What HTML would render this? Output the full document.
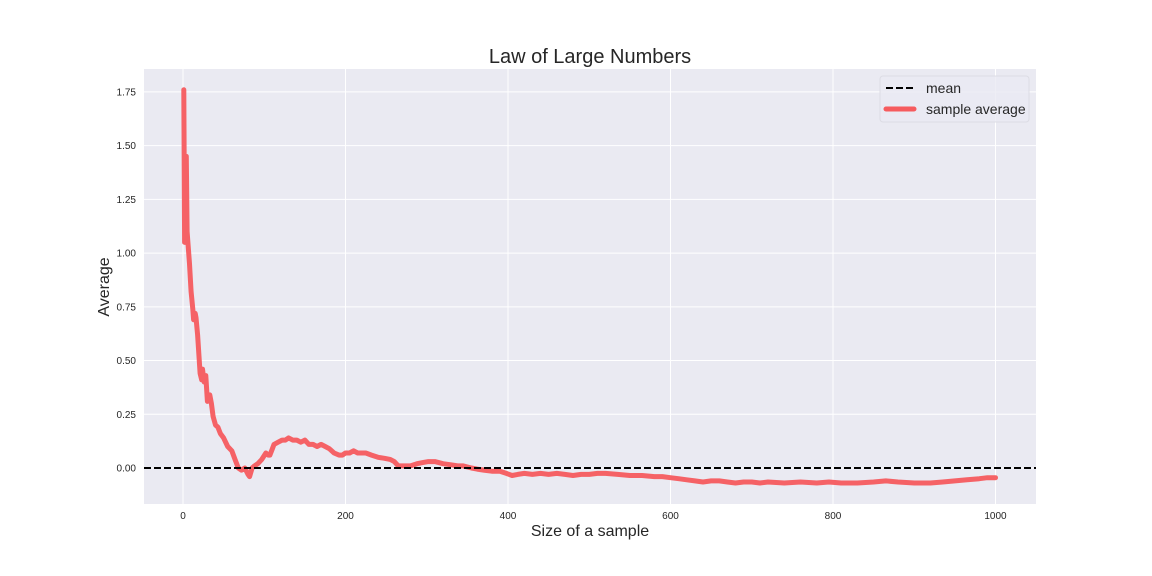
<!DOCTYPE html>
<html><head><meta charset="utf-8"><style>
body{margin:0;background:#fff;}
svg{display:block;font-family:"Liberation Sans",sans-serif;}
</style></head><body>
<svg id="chart" width="1152" height="576">
<rect x="144" y="69" width="892" height="435" fill="#EAEAF2"/>
<g id="grid"></g>
<g id="ticks"></g>
<text x="590" y="63" font-size="20" text-anchor="middle" fill="#262626">Law of Large Numbers</text>
<text x="590" y="536" font-size="16" text-anchor="middle" fill="#262626">Size of a sample</text>
<text x="109" y="287" font-size="16" text-anchor="middle" fill="#262626" transform="rotate(-90 109 287)">Average</text>
<g id="series"></g>
<g>
<rect x="880" y="76" width="149" height="46" rx="3" fill="#EAEAF2" fill-opacity="0.8" stroke="#dcdce4"/>
<line x1="886" y1="88" x2="913" y2="88" stroke="#000" stroke-width="2" stroke-dasharray="7,3"/>
<text x="926" y="93" font-size="14" fill="#262626">mean</text>
<line x1="886" y1="109" x2="914" y2="109" stroke="#F65B5E" stroke-width="5" stroke-linecap="round"/>
<text x="926" y="114" font-size="14" fill="#262626">sample average</text>
</g>
</svg>
<script>
const xTicks=[0,200,400,600,800,1000];
const yTicks=[0,0.25,0.5,0.75,1.0,1.25,1.5,1.75];
const meanValue=0;
const sampleN=[1,2,3,4,5,6,8,10,12,13,15,16,18,21,23,24,26,28,30,33,35,37,40,43,46,50,55,60,64,68,72,76,80,82,85,88,92,97,102,105,107,110,112,117,122,126,130,135,140,145,150,155,160,165,170,175,180,186,192,196,200,205,210,215,225,232,240,248,255,260,265,272,280,288,295,302,310,320,330,338,345,355,362,370,380,390,398,405,412,420,430,440,450,460,470,480,490,500,510,520,535,550,565,580,590,600,610,620,630,640,650,660,670,680,690,700,710,720,740,760,780,795,810,830,850,865,880,900,920,935,950,965,980,990,1000];
const sampleAvg=[1.76,1.05,1.40,1.45,1.10,1.05,0.95,0.82,0.74,0.69,0.72,0.70,0.62,0.44,0.41,0.46,0.40,0.43,0.31,0.34,0.30,0.24,0.20,0.19,0.16,0.14,0.10,0.08,0.04,0.00,-0.01,0.00,-0.03,-0.04,0.00,0.01,0.02,0.04,0.07,0.06,0.06,0.09,0.11,0.12,0.13,0.13,0.14,0.13,0.13,0.12,0.13,0.11,0.11,0.10,0.11,0.10,0.09,0.07,0.06,0.06,0.07,0.07,0.08,0.07,0.07,0.06,0.05,0.045,0.04,0.03,0.01,0.01,0.01,0.02,0.025,0.03,0.03,0.02,0.015,0.01,0.01,0.0,-0.005,-0.01,-0.015,-0.015,-0.025,-0.035,-0.03,-0.025,-0.03,-0.025,-0.03,-0.025,-0.03,-0.035,-0.03,-0.03,-0.025,-0.025,-0.03,-0.035,-0.035,-0.04,-0.04,-0.045,-0.05,-0.055,-0.06,-0.065,-0.06,-0.06,-0.065,-0.07,-0.065,-0.065,-0.07,-0.065,-0.07,-0.065,-0.07,-0.065,-0.07,-0.07,-0.065,-0.06,-0.065,-0.07,-0.07,-0.065,-0.06,-0.055,-0.05,-0.045,-0.045];
const X=v=>183+v*0.8125;
const Y=v=>468-v*214.9;
const NS='http://www.w3.org/2000/svg';
function mk(tag,attrs,parent){const e=document.createElementNS(NS,tag);for(const k in attrs)e.setAttribute(k,attrs[k]);parent.appendChild(e);return e;}
const grid=document.getElementById('grid'),ticks=document.getElementById('ticks'),series=document.getElementById('series');
xTicks.forEach(t=>{
 const g=mk('line',{x1:X(t),x2:X(t),y1:69,y2:504,stroke:'#fff','stroke-width':1},grid);
 
 
 const l=mk('text',{x:X(t),y:519,'font-size':10,'text-anchor':'middle',fill:'#262626'},ticks);
 l.textContent=t;
 
 
});
yTicks.forEach(t=>{
 const g=mk('line',{x1:144,x2:1036,y1:Y(t),y2:Y(t),stroke:'#fff','stroke-width':1},grid);
 
 
 const l=mk('text',{x:136,y:Y(t)+3.5,'font-size':10,'text-anchor':'end',fill:'#262626'},ticks);
 l.textContent=t.toFixed(2);
 
 
});
const d=sampleN.map((n,i)=>(i?'L':'M')+X(n).toFixed(1)+','+Y(sampleAvg[i]).toFixed(1)).join('');
const p=mk('path',{d:d,fill:'none',stroke:'#F65B5E','stroke-width':5,'stroke-linejoin':'round','stroke-linecap':'round','stroke-opacity':0.95},series);


const m=mk('line',{x1:144,x2:1036,y1:Y(meanValue),y2:Y(meanValue),stroke:'#000','stroke-width':2,'stroke-dasharray':'7,3'},series);


</script>
</body></html>
